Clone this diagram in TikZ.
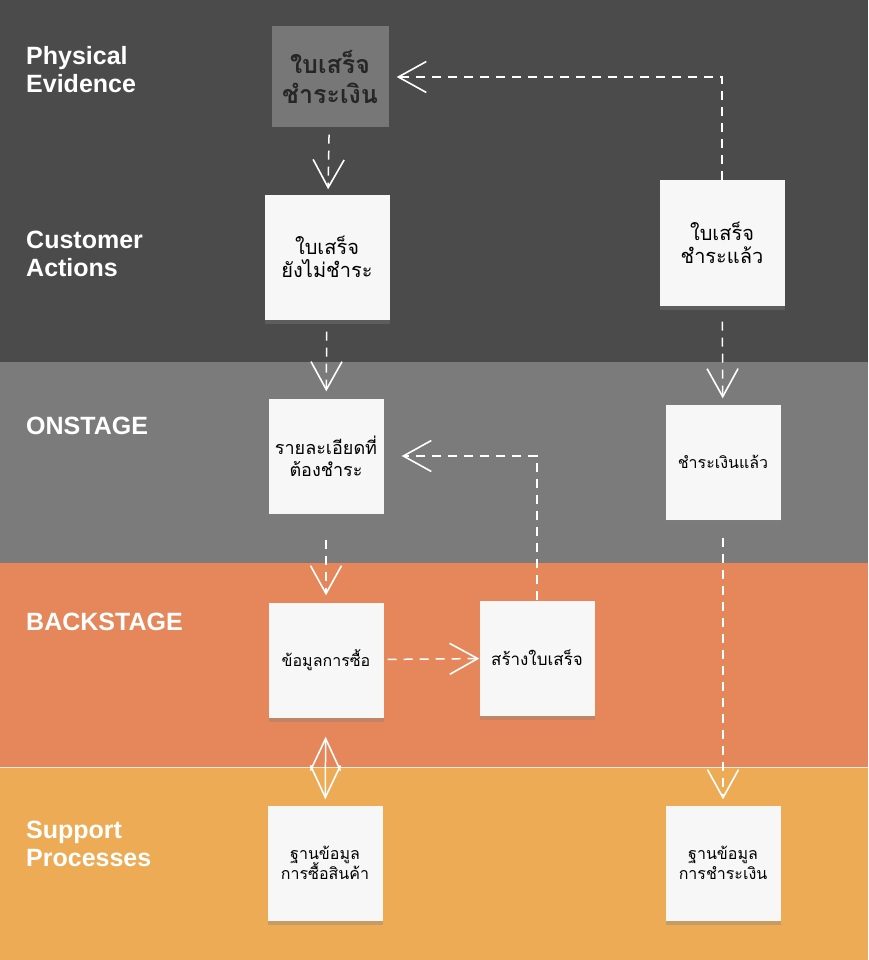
\documentclass[tikz,border=0pt]{standalone}
\usepackage{fontspec}
\setmainfont{Liberation Sans}
\newfontfamily\thaifont[Script=Thai]{Loma}
\usetikzlibrary{arrows.meta,shadows}

\definecolor{lanedark}{HTML}{4B4B4B}
\definecolor{lanegray}{HTML}{7B7B7B}
\definecolor{laneorange}{HTML}{E5875B}
\definecolor{laneyellow}{HTML}{EDAB55}
\definecolor{notewhite}{HTML}{F7F7F7}
\definecolor{evidgray}{HTML}{777777}

\newcommand\tightlines{\lineskiplimit=-20pt\relax}

\begin{document}
\begin{tikzpicture}[x=1pt, y=-1pt,
      lanelabel/.style={anchor=base west, align=left, text=white,
                        inner sep=0pt, font=\fontsize{25}{28}\selectfont\bfseries},
      note/.style={fill=notewhite, minimum width=115pt, minimum height=115pt,
                   align=center, inner sep=0pt,
                   drop shadow={shadow xshift=0pt, shadow yshift=-4pt, opacity=0.35},
                   font=\thaifont\fontsize{16}{20}\selectfont\tightlines},
      bignote/.style={note, minimum width=125pt, minimum height=125pt,
                      font=\thaifont\fontsize{20}{23}\selectfont},
      evid/.style={fill=evidgray, minimum width=117pt, minimum height=101pt,
                   align=center, inner sep=0pt, text=black!85,
                   font=\thaifont\fontsize{25}{30}\selectfont\bfseries},
      flow/.style={-{Straight Barb[length=28pt, width=31pt, line width=1.6pt]},
                   white, line width=1.5pt, dash pattern=on 9pt off 7pt},
      twoway/.style={{Straight Barb[length=32pt, width=30pt, line width=1.6pt]}-{Straight Barb[length=32pt, width=30pt, line width=1.6pt]},
                     white, line width=1.5pt},
    ]
    \useasboundingbox (0,0) rectangle (868,960);

    % Lanes
    \fill[lanedark]   (0,0)   rectangle (868,362);
    \fill[lanegray]   (0,362) rectangle (868,563);
    \fill[laneorange] (0,563) rectangle (868,767);
    \fill[laneyellow] (0,767) rectangle (868,960);
    \draw[white!80!laneyellow, line width=1pt] (0,767) -- (868,767);

    % Lane titles (anchored on the last line)
    \node[lanelabel] (lpe) at (26,93)  {Physical\\Evidence};
    \node[lanelabel] (lca) at (26,276) {Customer\\Actions};
    \node[lanelabel] (lon) at (26,434) {ONSTAGE};
    \node[lanelabel] (lbs) at (26,630) {BACKSTAGE};
    \node[lanelabel] (lsp) at (26,866) {Support\\Processes};

    % Notes
    \node[evid] (receipt) at (330,77) {ใบเสร็จ\\ชำระเงิน};

    \node[bignote] (unpaid) at (327,257) {ใบเสร็จ\\ยังไม่ชำระ};
    \node[bignote] (paidrcpt) at (722,243) {ใบเสร็จ\\ชำระแล้ว};

    \node[note, font=\thaifont\fontsize{18}{22}\selectfont]
      (detail) at (326,456) {รายละเอียดที่\\ต้องชำระ};
    \node[note] (paid) at (723,462) {ชำระเงินแล้ว};

    \node[note] (purchase) at (326,660) {ข้อมูลการซื้อ};
    \node[note, font=\thaifont\fontsize{17}{20}\selectfont]
      (makercpt) at (537,658) {สร้างใบเสร็จ};

    \node[note] (dbbuy) at (325,863) {ฐานข้อมูล\\การซื้อสินค้า};
    \node[note] (dbpay) at (723,863) {ฐานข้อมูล\\การชำระเงิน};

    % Left column
    \draw[flow, shorten <=7pt, shorten >=5pt] (receipt) -- (unpaid);
    \draw[flow, shorten <=12pt, shorten >=7pt] (unpaid) -- (detail);
    \draw[flow, shorten <=26pt, shorten >=7pt] (detail) -- (purchase);
    \draw[flow, shorten <=4pt] (purchase) -- (makercpt);
    \draw[flow, shorten >=18pt] (makercpt.north) |- (detail.east);

    % Right column
    \draw[flow, shorten >=8pt] (paidrcpt.north) |- (receipt.east);
    \draw[flow, shorten <=16pt, shorten >=6pt] (paidrcpt) -- (paid);
    \draw[flow, shorten <=18pt, shorten >=6pt] (paid) -- (dbpay);

    % Purchase data <-> database
    \draw[twoway, shorten <=19pt, shorten >=6pt] (purchase) -- (dbbuy);

  \end{tikzpicture}
\end{document}
